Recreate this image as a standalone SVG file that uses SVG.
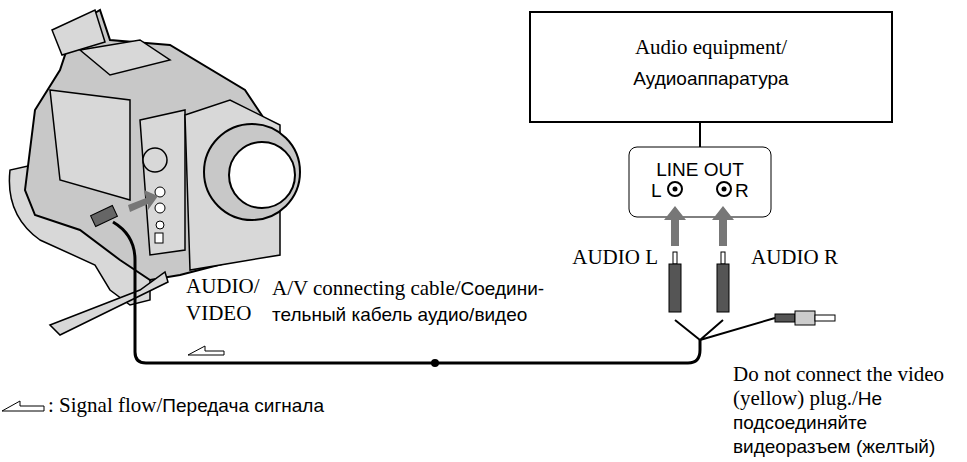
<svg xmlns="http://www.w3.org/2000/svg" width="967" height="462" viewBox="0 0 967 462">
<style>
.s{font-family:"Liberation Serif",serif;font-size:21px;fill:#000}
.a{font-family:"Liberation Sans",sans-serif;font-size:19px;fill:#000}
.cam{fill:#c8c8c8;stroke:#000;stroke-width:2}
.cl{fill:#d8d8d8;stroke:#000;stroke-width:1.5}
.w{fill:none;stroke:#000;stroke-width:3}
.ga{fill:#777}
</style>
<rect width="967" height="462" fill="#fff"/>
<g id="camcorder">
<path class="cl" d="M10 170 Q5 215 40 240 L95 265 L110 290 L130 305 L150 300 L150 270 L100 240 L60 210 L55 160 Z"/>
<path class="cam" d="M25 190 L35 110 L60 70 L75 25 L100 10 L110 40 L170 45 L245 90 L265 120 L265 250 L230 262 L180 275 L150 280 L120 260 L80 230 L35 215 Z"/>
<path class="cl" d="M52 30 L95 10 L105 42 L62 55 Z"/>
<path class="cl" d="M80 50 L140 40 L170 60 L110 75 Z"/>
<path class="cl" d="M50 90 L130 100 L130 200 L60 180 Z"/>
<path class="cl" d="M140 120 L185 110 L185 250 L150 255 Z"/>
<path class="cl" d="M185 115 L230 100 L280 125 L280 255 L190 270 Z"/>
<circle class="cam" cx="252" cy="172" r="48"/>
<circle cx="262" cy="175" r="33" fill="#fff" stroke="#000" stroke-width="2"/>
<circle cx="155" cy="160" r="12" class="cl"/>
<circle cx="160" cy="192" r="5" fill="#fff" stroke="#000"/>
<circle cx="160" cy="208" r="5" fill="#fff" stroke="#000"/>
<circle cx="160" cy="225" r="4" fill="#fff" stroke="#000"/>
<rect x="155" y="233" width="8" height="10" fill="#fff" stroke="#000"/>
<path class="cl" d="M50 325 L140 290 L165 272 L168 282 L60 335 Z"/>
<polygon class="ga" points="128,205 146,198 144,190 158,196 148,210 148,204 130,212"/>
<rect x="92" y="210" width="24" height="12" transform="rotate(-25 104 216)" fill="#666" stroke="#000"/>
</g>
<g id="connectors">
<path class="w" d="M113 222 Q135 235 135 260 L135 352 Q135 363 146 363 L688 363 Q700 363 700 350 L700 340"/>
<path d="M700 340 L675 320 M700 340 L723 320 M700 340 L775 318" fill="none" stroke="#000" stroke-width="2"/>
<line x1="700" y1="122" x2="700" y2="147" stroke="#000" stroke-width="2"/>
<circle cx="435" cy="363" r="4" fill="#000"/>
</g>
<g id="audio-equipment">
<rect x="530" y="12" width="362" height="110" fill="#fff" stroke="#000" stroke-width="2"/>
<text class="s" x="711" y="54" text-anchor="middle">Audio equipment/</text>
<text class="a" x="711" y="85" text-anchor="middle">Аудиоаппаратура</text>
</g>
<g id="line-out">
<rect x="629" y="147" width="142" height="70" rx="8" fill="#fff" stroke="#000" stroke-width="1"/>
<text class="a" x="700" y="176" text-anchor="middle">LINE OUT</text>
<text class="a" x="651" y="197">L</text>
<text class="a" x="735" y="197">R</text>
<circle cx="675" cy="189" r="7" fill="#fff" stroke="#000" stroke-width="2"/><circle cx="675" cy="189" r="2.5" fill="#000"/>
<circle cx="724" cy="189" r="7" fill="#fff" stroke="#000" stroke-width="2"/><circle cx="724" cy="189" r="2.5" fill="#000"/>
</g>
<g id="plugs">
<polygon class="ga" points="671,246 679,246 679,220 686,220 675,206 664,220 671,220"/>
<polygon class="ga" points="719,246 727,246 727,220 734,220 723,206 712,220 719,220"/>
<rect x="673" y="252" width="4" height="12" fill="#fff" stroke="#000"/>
<rect x="669" y="264" width="12" height="48" fill="#555" stroke="#000"/>
<rect x="721" y="252" width="4" height="12" fill="#fff" stroke="#000"/>
<rect x="717" y="264" width="12" height="48" fill="#555" stroke="#000"/>
<rect x="775" y="314" width="20" height="8" fill="#555" stroke="#000"/>
<rect x="795" y="311" width="20" height="14" fill="#ccc" stroke="#000"/>
<rect x="815" y="315" width="20" height="6" fill="#fff" stroke="#000"/>
</g>
<g id="labels">
<text class="s" x="186" y="293">AUDIO/</text>
<text class="s" x="186" y="320">VIDEO</text>
<path d="M188 355 L205 346 L205 351 L224 351 L224 355 Z" fill="none" stroke="#000"/>
<text class="s" x="272" y="295">A/V connecting cable/<tspan class="a">Соедини-</tspan></text>
<text class="a" x="272" y="321">тельный кабель аудио/видео</text>
<text class="s" x="658" y="264" text-anchor="end">AUDIO L</text>
<text class="s" x="751" y="264">AUDIO R</text>
<text class="s" x="733" y="381">Do not connect the video</text>
<text class="s" x="733" y="405">(yellow) plug./<tspan class="a">Не</tspan></text>
<text class="a" x="733" y="429">подсоединяйте</text>
<text class="a" x="733" y="453">видеоразъем (желтый)</text>
<path d="M2 411 L20 401 L20 406 L44 406 L44 411 Z" fill="none" stroke="#000"/>
<text class="s" x="48" y="412">: Signal flow/<tspan class="a">Передача сигнала</tspan></text>
</g>
</svg>
